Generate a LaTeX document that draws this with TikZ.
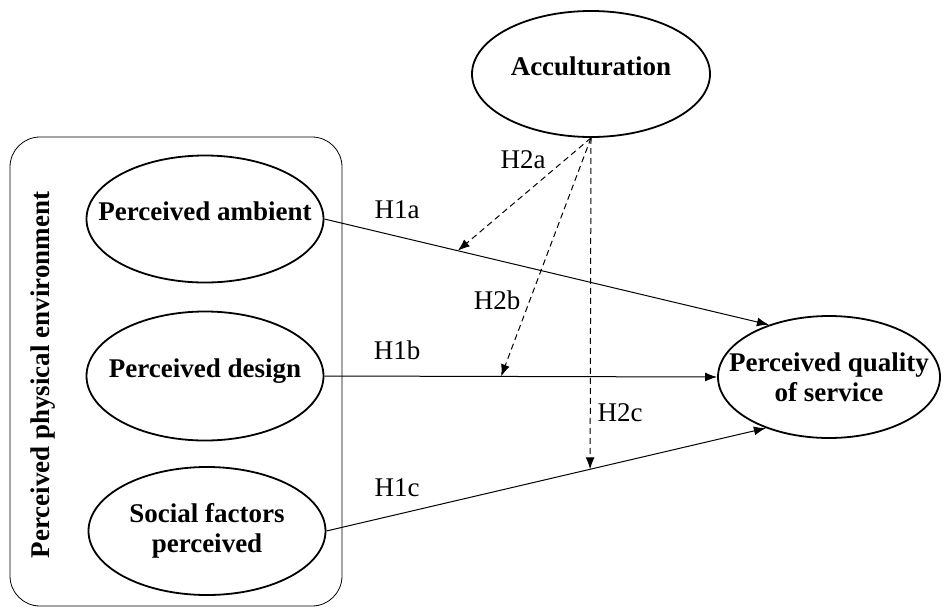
\documentclass[tikz,border=0pt]{standalone}
\usepackage{fontspec}
\setmainfont{Liberation Serif}
\usepackage{tikz}
\usetikzlibrary{arrows.meta}
\usetikzlibrary{shapes.geometric}
\usetikzlibrary{calc}

\begin{document}
\begin{tikzpicture}[x=1pt,y=-1pt,>={Latex[length=12pt,width=9pt]},
    construct/.style={ellipse,draw,line width=1.8pt,inner xsep=-30pt,inner ysep=0pt,align=center,
        font=\fontsize{27}{30}\selectfont\bfseries},
    hyp/.style={font=\fontsize{27}{30}\selectfont},
    path/.style={->,line width=1pt},
    moderate/.style={->,line width=1pt,dash pattern=on 6pt off 4pt}]
    \useasboundingbox (0,0) rectangle (944,608);
    % physical environment block
    \draw[line width=0.8pt,rounded corners=30pt] (10,137) rectangle (342,606);
    \node[rotate=90,font=\fontsize{27}{30}\selectfont\bfseries] (env) at (43,375) {Perceived physical environment};
    \node[construct,minimum width=237pt,minimum height=127pt,text depth=15pt] (amb) at (205,219) {Perceived ambient};
    \node[construct,minimum width=237pt,minimum height=129pt,text depth=15pt] (des) at (205,376) {Perceived design};
    \node[construct,minimum width=237pt,minimum height=128pt] (soc) at (207,531) {Social factors\\perceived};
    % outcome and moderator
    \node[construct,minimum width=222pt,minimum height=122pt] (qual) at (829,377) {Perceived quality\\of service};
    \node[construct,minimum width=238pt,minimum height=126pt,text depth=15pt] (acc) at (591,74) {Acculturation};
    % direct paths
    \draw[path] (amb.east) -- coordinate[pos=0.3] (m1a) (qual.139);
    \draw[path] (des.east) -- coordinate[pos=0.45] (m1b) (qual.west);
    \draw[path] (soc.east) -- coordinate[pos=0.6] (m1c) (qual.219);
    % moderating paths
    \draw[moderate] (acc.south) -- (m1a);
    \draw[moderate] (acc.south) -- (m1b);
    \draw[moderate] (acc.south) -- (m1c);
    % labels
    \node[hyp] (h1a) at (397,210) {H1a};
    \node[hyp] (h1b) at (397,350) {H1b};
    \node[hyp] (h1c) at (397,488) {H1c};
    \node[hyp] (h2a) at (523,160) {H2a};
    \node[hyp] (h2b) at (497,300) {H2b};
    \node[hyp] (h2c) at (620,413) {H2c};
\end{tikzpicture}
\end{document}
